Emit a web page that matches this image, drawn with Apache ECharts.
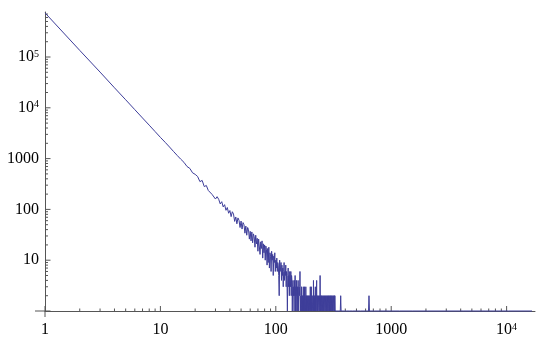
<!DOCTYPE html>
<html>
<head>
<meta charset="utf-8">
<script src="https://cdn.jsdelivr.net/npm/echarts@6/dist/echarts.min.js"></script>
<style>
  html, body { margin: 0; padding: 0; background: #fff; }
  #chart { width: 536px; height: 338px; }
</style>
</head>
<body>
<div id="chart"></div>
<script>
// counts for rank 1..250 (rank = index + 1), zero counts are dropped like in the log plot
const headCounts = [
  740000, 135000, 50500, 24800, 14400, 9200, 6300, 4550, 3400, 2620,
  2090, 1690, 1380, 1150, 975, 845, 700, 640, 525, 490,
  445, 352, 372, 281, 296, 236, 248, 198, 212, 160,
  178, 158, 128, 142, 112, 124, 96, 109, 84, 95,
  72, 90, 81, 58, 71, 52, 68, 61, 44, 59,
  41, 55, 50, 34, 47, 31, 44, 40, 26, 37,
  24, 36, 22, 33, 29, 18, 31, 21, 27, 15,
  26, 24, 13, 23, 17, 24, 11, 21, 14, 20,
  10, 19, 16, 8, 17, 9, 18, 7, 14, 12,
  6, 15, 10, 13, 5, 12, 9, 14, 6, 10,
  7, 11, 6, 9, 8, 5, 2, 10, 6, 7,
  9, 4, 8, 5, 7, 3, 6, 9, 4, 6,
  5, 8, 3, 6, 4, 1, 5, 7, 3, 5,
  2, 6, 4, 3, 6, 2, 5, 4, 1, 3,
  4, 2, 3, 1, 4, 2, 5, 1, 3, 2,
  4, 1, 2, 3, 1, 4, 2, 1, 3, 2,
  3, 6, 2, 1, 2, 1, 3, 1, 2, 1,
  2, 1, 3, 1, 2, 1, 3, 1, 2, 0,
  1, 3, 1, 2, 1, 2, 1, 0, 2, 1,
  2, 1, 0, 2, 1, 1, 2, 1, 3, 1,
  2, 1, 3, 1, 0, 2, 1, 0, 1, 2,
  1, 4, 1, 2, 0, 1, 2, 1, 0, 3,
  1, 2, 1, 0, 1, 4, 1, 2, 0, 1,
  2, 1, 0, 1, 2, 0, 1, 1, 2, 0,
  1, 5, 1, 0, 2, 1, 0, 1, 2, 1
];

// sparse tail: ranks above 250 that have a nonzero count
const tailRanks = [
  252, 253, 255, 256, 258, 260, 261, 263, 264, 266, 268, 269, 271, 273, 274, 276, 277,
  279, 281, 283, 284, 286, 288, 290, 292, 294, 295, 298, 299, 301, 303, 305, 307, 309,
  312, 313, 315, 317, 319, 322, 324, 325, 326, 331, 338, 346, 355, 362, 365, 368, 379,
  394, 411, 433, 462, 497, 541, 598, 636, 642, 648, 720, 815, 960, 1180, 1520, 2050,
  2870, 4200, 6500, 10400, 16600
];
const tailCounts = [
  2, 1, 1, 2, 1, 2, 1, 1, 2, 1, 1, 2, 1, 2, 1, 1, 2,
  1, 2, 1, 1, 2, 1, 2, 1, 2, 1, 2, 1, 1, 2, 1, 2, 1,
  2, 1, 1, 2, 1, 2, 1, 2, 1, 1, 1, 1, 1, 1, 2, 1, 1,
  1, 1, 1, 1, 1, 1, 1, 1, 2, 1, 1, 1, 1, 1, 1, 1,
  1, 1, 1, 1, 1
];

const xMajorTicks = [1, 10, 100, 1000, 10000];
const yMajorTicks = [1, 10, 100, 1000, 10000, 100000];
const minorSteps = [2, 3, 4, 5, 6, 7, 8, 9];

const xMin = 1, xMax = 17620;
const yMin = 1, yMax = 769000;
const axisColor = "#555";
const lineColor = "#3d3d99";
const serif = "Liberation Serif";

const points = [];
headCounts.forEach((c, i) => { if (c > 0) points.push([i + 1, c]); });
tailRanks.forEach((r, i) => { if (tailCounts[i] > 0) points.push([r, tailCounts[i]]); });

function minorList(majors, max) {
  const out = [];
  majors.forEach((m) => minorSteps.forEach((s) => { if (m * s < max) out.push(m * s); }));
  return out;
}

const xTickData = xMajorTicks.map((v) => [v, yMin, 5])
  .concat(minorList(xMajorTicks, xMax).map((v) => [v, yMin, 2.5]));
const yTickData = yMajorTicks.map((v) => [xMin, v, 5.5])
  .concat(minorList(yMajorTicks, yMax).map((v) => [xMin, v, 3]));

function powLabel(v, skipOne) {
  const e = Math.round(Math.log10(v));
  if (Math.abs(Math.pow(10, e) - v) > 1e-6 * v) return "";
  if (skipOne && e === 0) return "";
  if (e < 4) return "{n|" + Math.pow(10, e) + "}";
  return "{n|10}{sup|" + e + "}";
}

const labelRich = {
  n: { fontSize: 16, lineHeight: 16, fontFamily: serif, color: "#000" },
  sup: { fontSize: 10, lineHeight: 10, verticalAlign: "top", fontFamily: serif, color: "#000" }
};

const chart = echarts.init(document.getElementById("chart"), null, { renderer: "canvas" });

chart.setOption({
  animation: false,
  grid: { left: 45, top: 12, width: 490, height: 299, containLabel: false },
  xAxis: {
    type: "log",
    logBase: 10,
    min: xMin,
    max: xMax,
    axisLine: { show: true, lineStyle: { color: axisColor, width: 1 } },
    axisTick: { show: false },
    splitLine: { show: false },
    axisLabel: {
      margin: 11,
      fontFamily: serif,
      fontSize: 16,
      showMaxLabel: false,
      formatter: (v) => powLabel(v, false),
      rich: labelRich
    }
  },
  yAxis: {
    type: "log",
    logBase: 10,
    min: yMin,
    max: yMax,
    axisLine: { show: true, lineStyle: { color: axisColor, width: 1 } },
    axisTick: { show: false },
    splitLine: { show: false },
    axisLabel: {
      margin: 6,
      fontFamily: serif,
      fontSize: 16,
      showMaxLabel: false,
      formatter: (v) => powLabel(v, true),
      rich: labelRich
    }
  },
  graphic: [
    { type: "line", shape: { x1: 35, y1: 311, x2: 45, y2: 311 }, style: { stroke: axisColor, lineWidth: 1 } },
    { type: "line", shape: { x1: 45, y1: 311, x2: 45, y2: 317 }, style: { stroke: axisColor, lineWidth: 1 } }
  ],
  series: [
    {
      type: "line",
      data: points,
      showSymbol: false,
      clip: false,
      lineStyle: { color: lineColor, width: 1 },
      z: 5
    },
    {
      type: "custom",
      data: xTickData,
      encode: { x: 0, y: 1 },
      renderItem: (params, api) => {
        const p = api.coord([api.value(0), api.value(1)]);
        return {
          type: "line",
          shape: { x1: p[0], y1: p[1], x2: p[0], y2: p[1] - api.value(2) },
          style: { stroke: axisColor, lineWidth: 1 }
        };
      },
      z: 3
    },
    {
      type: "custom",
      data: yTickData,
      encode: { x: 0, y: 1 },
      renderItem: (params, api) => {
        const p = api.coord([api.value(0), api.value(1)]);
        return {
          type: "line",
          shape: { x1: p[0], y1: p[1], x2: p[0] + api.value(2), y2: p[1] },
          style: { stroke: axisColor, lineWidth: 1 }
        };
      },
      z: 3
    }
  ]
});
</script>
</body>
</html>
